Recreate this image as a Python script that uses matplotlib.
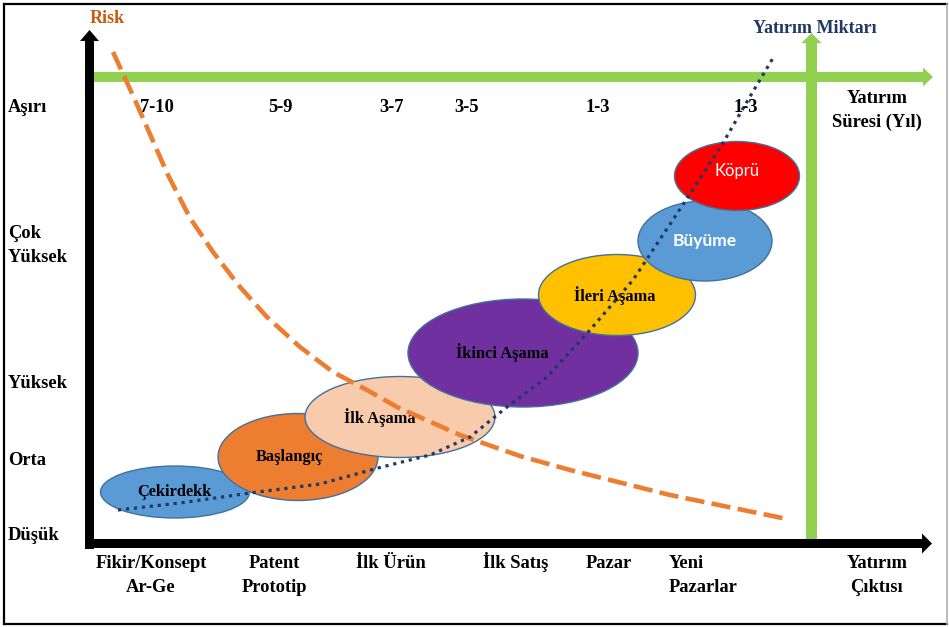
import matplotlib
matplotlib.use("Agg")
import matplotlib.pyplot as plt
from matplotlib.patches import Ellipse, Rectangle, Polygon

# ---------------- data ----------------
stage_names = ["Çekirdekk", "Başlangıç", "İlk Aşama", "İkinci Aşama", "İleri Aşama", "Büyüme", "Köprü"]
stage_cx = [175, 298, 400, 523, 617, 705, 737]
stage_cy = [492, 457, 417, 353, 295, 241, 176]
stage_w = [149, 160, 190, 230, 157, 134, 125]
stage_h = [52, 87, 81, 108, 81, 80, 69]
stage_label_x = [174, 289, 380, 502, 615, 705, 737]
stage_label_y = [492, 457, 418, 353, 296, 241, 171]
stage_colors = ["#5B9BD5", "#ED7D31", "#F8CBAD", "#7030A0", "#FFC000", "#5B9BD5", "#FF0000"]
stage_text_colors = ["black", "black", "black", "black", "black", "white", "white"]

risk_levels = [["Aşırı"], ["Çok", "Yüksek"], ["Yüksek"], ["Orta"], ["Düşük"]]
risk_level_baseline = [112, 238, 388, 465, 540]

durations = ["7-10", "5-9", "3-7", "3-5", "1-3", "1-3"]
duration_x = [157, 280, 392, 467, 598, 746]

outputs = [["Fikir/Konsept", "Ar-Ge"], ["Patent", "Prototip"], ["İlk Ürün"], ["İlk Satış"], ["Pazar"]]
output_x = [151, 274, 391, 516, 609]

risk_x = [113, 135, 153, 167, 190, 213, 240, 267, 300, 333, 367, 397, 460, 520, 570, 670, 787]
risk_y = [52, 100, 141, 173, 218, 252, 287, 317, 347, 372, 390, 407, 435, 456, 470, 495, 519]

invest_x = [118, 180, 250, 320, 378, 430, 470, 507, 547, 590, 633, 645, 688, 723, 745, 773]
invest_y = [510, 503, 493, 484, 468, 455, 437, 407, 377, 330, 280, 262, 197, 143, 105, 58]

# ---------------- figure ----------------
W, H = 949, 627
fig = plt.figure(figsize=(W / 100, H / 100), dpi=100)
ax = fig.add_axes([0, 0, 1, 1])
ax.set_xlim(0, W)
ax.set_ylim(H, 0)
ax.axis("off")

SERIF = ["Liberation Serif", "DejaVu Serif"]
SANS = ["Lato", "DejaVu Sans"]
LS = 24  # line step in px

# frame
ax.plot([4, 947], [4, 4], color="black", lw=1.6, zorder=1)
ax.plot([4, 4], [4, 624], color="black", lw=1.6, zorder=1)
ax.plot([4, 947], [624, 624], color="black", lw=1.6, zorder=1)
ax.plot([947, 947], [4, 624], color="#b0b0b0", lw=1.2, zorder=1)

GREEN = "#92D050"
ax.add_patch(Rectangle((91, 72), 832, 10, color=GREEN, lw=0, zorder=2))
ax.add_patch(Polygon([(923, 67.5), (923, 86.5), (933, 77)], closed=True, color=GREEN, lw=0, zorder=2))
ax.add_patch(Rectangle((806, 43), 11, 497, color=GREEN, lw=0, zorder=2))
ax.add_patch(Polygon([(801.5, 43), (821.5, 43), (811.5, 33)], closed=True, color=GREEN, lw=0, zorder=2))

ax.add_patch(Rectangle((85, 40), 9, 509, color="black", lw=0, zorder=3))
ax.add_patch(Polygon([(80, 41), (99, 41), (89.5, 30)], closed=True, color="black", lw=0, zorder=3))
ax.add_patch(Rectangle((85, 539), 838, 9, color="black", lw=0, zorder=3))
ax.add_patch(Polygon([(922, 533.5), (922, 553.5), (932, 543.5)], closed=True, color="black", lw=0, zorder=3))

# ellipses
for i, name in enumerate(stage_names):
    e = Ellipse((stage_cx[i], stage_cy[i]), stage_w[i], stage_h[i],
                facecolor=stage_colors[i], edgecolor="#41719C", lw=1.0, zorder=4 + i * 0.1)
    ax.add_patch(e)
    if stage_text_colors[i] == "white":
        bold = name == "Büyüme"
        ax.text(stage_label_x[i], stage_label_y[i], name, color="white",
                fontsize=12.5 if bold else 12,
                fontweight="bold" if bold else "normal",
                family=SANS, ha="center", va="center", zorder=4.05 + i * 0.1)
    else:
        ax.text(stage_label_x[i], stage_label_y[i], name, color="black", fontsize=11.8,
                fontweight="bold", family=SERIF, ha="center", va="center",
                zorder=4.05 + i * 0.1)

# curves
ax.plot(risk_x, risk_y, color="#ED7D31", lw=3.3, linestyle=(0, (4.2, 1.6)),
        dash_capstyle="butt", zorder=6)
ax.plot(invest_x, invest_y, color="#1F3864", lw=2.3, linestyle=(0, (1, 1.5)),
        dash_capstyle="butt", zorder=6.1)

# text
FS = 13.3
ax.text(90, 23, "Risk", color="#C55A11", fontsize=13, fontweight="bold", family=SERIF,
        ha="left", va="baseline", zorder=7)
ax.text(815, 33, "Yatırım Miktarı", color="#1F3864", fontsize=13, fontweight="bold",
        family=SERIF, ha="center", va="baseline", zorder=7)

for lines, yb in zip(risk_levels, risk_level_baseline):
    for k, ln in enumerate(lines):
        ax.text(8, yb + k * LS, ln, fontsize=FS, fontweight="bold", family=SERIF,
                ha="left", va="baseline", zorder=7)

for lab, x in zip(durations, duration_x):
    ax.text(x, 112, lab, fontsize=FS, fontweight="bold", family=SERIF, ha="center",
            va="baseline", zorder=5.9)

for lines, x in zip(outputs, output_x):
    for k, ln in enumerate(lines):
        ax.text(x, 568 + k * LS, ln, fontsize=FS, fontweight="bold", family=SERIF,
                ha="center", va="baseline", zorder=7)
for k, ln in enumerate(["Yeni", "Pazarlar"]):
    ax.text(669, 568 + k * LS, ln, fontsize=FS, fontweight="bold", family=SERIF,
            ha="left", va="baseline", zorder=7)
for k, ln in enumerate(["Yatırım", "Çıktısı"]):
    ax.text(877, 568 + k * LS, ln, fontsize=FS, fontweight="bold", family=SERIF,
            ha="center", va="baseline", zorder=7)
for k, ln in enumerate(["Yatırım", "Süresi (Yıl)"]):
    ax.text(877, 103 + k * LS, ln, fontsize=FS, fontweight="bold", family=SERIF,
            ha="center", va="baseline", zorder=7)

fig.savefig("out.png", dpi=100)
